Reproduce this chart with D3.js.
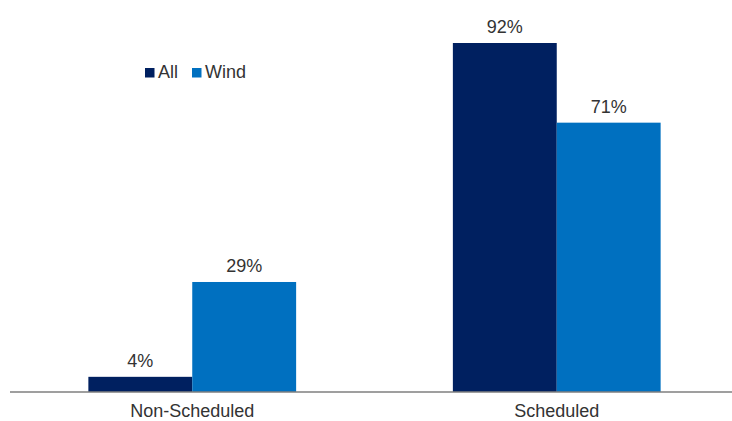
<!DOCTYPE html>
<html><head><meta charset="utf-8">
<script src="https://cdn.jsdelivr.net/npm/d3@7"></script>
<style>html,body{margin:0;padding:0;background:#fff;}svg{display:block;}</style>
</head><body>
<script>
const categories = ["Non-Scheduled", "Scheduled"];
const seriesNames = ["All", "Wind"];
const allValues = [4, 92];
const windValues = [29, 71];
const colors = ["#002060", "#0070C0"];

const W = 732, H = 421;
const svg = d3.select("body").append("svg").attr("width", W).attr("height", H);
const font = "'Liberation Sans', Arial, sans-serif";

const x = d3.scaleBand().domain(categories).range([10, 739]).paddingInner(0.43).paddingOuter(0.215);
const xs = d3.scaleBand().domain(seriesNames).range([0, x.bandwidth()]);
const y = d3.scaleLinear().domain([0, 92]).range([392, 43]);

const data = categories.map((c, i) => ({cat: c, vals: [allValues[i], windValues[i]]}));

const g = svg.append("g");
data.forEach(d => {
  d.vals.forEach((v, j) => {
    g.append("rect")
      .attr("x", x(d.cat) + xs(seriesNames[j]))
      .attr("y", y(v))
      .attr("width", xs.bandwidth())
      .attr("height", y(0) - y(v))
      .attr("fill", colors[j]);
    g.append("text")
      .attr("x", x(d.cat) + xs(seriesNames[j]) + xs.bandwidth() / 2)
      .attr("y", y(v) - 10)
      .attr("text-anchor", "middle")
      .attr("font-family", font).attr("font-size", 18).attr("fill", "#333")
      .text(v + "%");
  });
});

const axis = svg.append("g").attr("transform", `translate(0,${y(0)})`)
  .call(d3.axisBottom(x).tickSize(0).tickPadding(12));
axis.select(".domain").attr("stroke", "#7f7f7f").attr("stroke-width", 1.5).attr("d", "M10,0H732");
axis.selectAll("text").attr("font-family", font).attr("font-size", 18).attr("fill", "#333");

const legend = svg.append("g");
const lx = [145, 192];
seriesNames.forEach((s, j) => {
  legend.append("rect").attr("x", lx[j]).attr("y", 68).attr("width", 9.5).attr("height", 9.5).attr("fill", colors[j]);
  legend.append("text").attr("x", lx[j] + 13).attr("y", 77.5)
    .attr("font-family", font).attr("font-size", 18).attr("fill", "#333").text(s);
});
</script>
</body></html>
